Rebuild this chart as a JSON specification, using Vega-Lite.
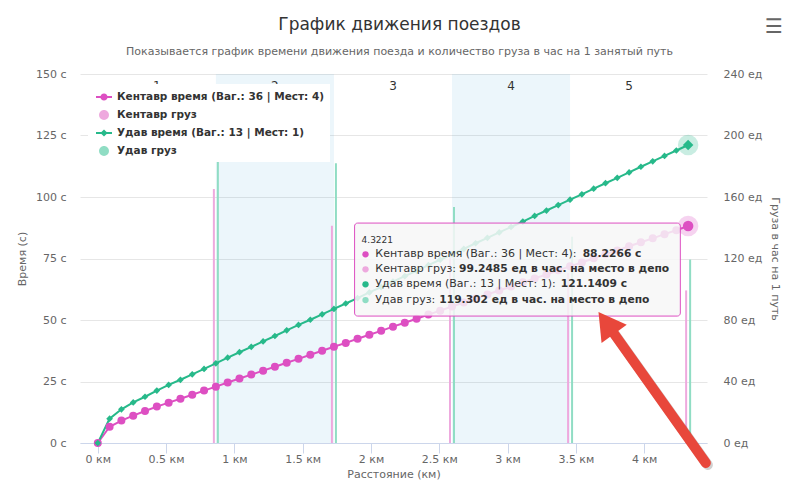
{
  "$schema": "https://vega.github.io/schema/vega-lite/v6.json",
  "width": 627,
  "height": 369,
  "autosize": {"type": "none"},
  "padding": {"left": 80, "top": 74, "right": 93, "bottom": 45},
  "background": "#ffffff",
  "config": {
    "font": "DejaVu Sans",
    "view": {"stroke": null},
    "axis": {"labelFont": "DejaVu Sans", "titleFont": "DejaVu Sans", "labelColor": "#666666", "titleColor": "#666666", "labelFontSize": 11, "titleFontSize": 11, "titleFontWeight": "normal"}
  },
  "title": {
    "text": "График движения поездов",
    "subtitle": "Показывается график времени движения поезда и количество груза в час на 1 занятый путь",
    "anchor": "middle", "frame": "group", "dx": 6,
    "font": "DejaVu Sans", "fontSize": 17, "fontWeight": "normal", "color": "#333333",
    "subtitleFont": "DejaVu Sans", "subtitleFontSize": 11, "subtitleColor": "#666666",
    "subtitlePadding": 12, "offset": -41
  },
  "datasets": {
    "bands": [
      {"band": "1", "start": 0, "end": 0.8644, "mid": 0.4322, "shaded": false},
      {"band": "2", "start": 0.8644, "end": 1.7288, "mid": 1.2966, "shaded": true},
      {"band": "3", "start": 1.7288, "end": 2.5933, "mid": 2.1611, "shaded": false},
      {"band": "4", "start": 2.5933, "end": 3.4577, "mid": 3.0255, "shaded": true},
      {"band": "5", "start": 3.4577, "end": 4.3221, "mid": 3.8899, "shaded": false}
    ],
    "cargo": [
      {"km": 0.8644, "g": 165.2, "series": "Кентавр груз"},
      {"km": 1.7288, "g": 141.3, "series": "Кентавр груз"},
      {"km": 2.5933, "g": 124.0, "series": "Кентавр груз"},
      {"km": 3.4577, "g": 110.5, "series": "Кентавр груз"},
      {"km": 4.3221, "g": 99.2485, "series": "Кентавр груз"},
      {"km": 0.8644, "g": 216.0, "series": "Удав груз"},
      {"km": 1.7288, "g": 182.0, "series": "Удав груз"},
      {"km": 2.5933, "g": 153.5, "series": "Удав груз"},
      {"km": 3.4577, "g": 134.2, "series": "Удав груз"},
      {"km": 4.3221, "g": 119.302, "series": "Удав груз"}
    ],
    "time": [
      {"km": 0, "t": 0, "series": "Кентавр время (Ваг.: 36 | Мест: 4)"},
      {"km": 0.0864, "t": 6.6, "series": "Кентавр время (Ваг.: 36 | Мест: 4)"},
      {"km": 0.1729, "t": 9.1, "series": "Кентавр время (Ваг.: 36 | Мест: 4)"},
      {"km": 0.2593, "t": 11.1, "series": "Кентавр время (Ваг.: 36 | Мест: 4)"},
      {"km": 0.3458, "t": 13.0, "series": "Кентавр время (Ваг.: 36 | Мест: 4)"},
      {"km": 0.4322, "t": 14.8, "series": "Кентавр время (Ваг.: 36 | Мест: 4)"},
      {"km": 0.5187, "t": 16.4, "series": "Кентавр время (Ваг.: 36 | Мест: 4)"},
      {"km": 0.6051, "t": 18.0, "series": "Кентавр время (Ваг.: 36 | Мест: 4)"},
      {"km": 0.6915, "t": 19.6, "series": "Кентавр время (Ваг.: 36 | Мест: 4)"},
      {"km": 0.778, "t": 21.3, "series": "Кентавр время (Ваг.: 36 | Мест: 4)"},
      {"km": 0.8644, "t": 22.9, "series": "Кентавр время (Ваг.: 36 | Мест: 4)"},
      {"km": 0.9509, "t": 24.6, "series": "Кентавр время (Ваг.: 36 | Мест: 4)"},
      {"km": 1.0373, "t": 26.2, "series": "Кентавр время (Ваг.: 36 | Мест: 4)"},
      {"km": 1.1237, "t": 27.8, "series": "Кентавр время (Ваг.: 36 | Мест: 4)"},
      {"km": 1.2102, "t": 29.4, "series": "Кентавр время (Ваг.: 36 | Мест: 4)"},
      {"km": 1.2966, "t": 31.0, "series": "Кентавр время (Ваг.: 36 | Мест: 4)"},
      {"km": 1.3831, "t": 32.6, "series": "Кентавр время (Ваг.: 36 | Мест: 4)"},
      {"km": 1.4695, "t": 34.2, "series": "Кентавр время (Ваг.: 36 | Мест: 4)"},
      {"km": 1.556, "t": 35.9, "series": "Кентавр время (Ваг.: 36 | Мест: 4)"},
      {"km": 1.6424, "t": 37.5, "series": "Кентавр время (Ваг.: 36 | Мест: 4)"},
      {"km": 1.7288, "t": 39.1, "series": "Кентавр время (Ваг.: 36 | Мест: 4)"},
      {"km": 1.8153, "t": 40.7, "series": "Кентавр время (Ваг.: 36 | Мест: 4)"},
      {"km": 1.9017, "t": 42.4, "series": "Кентавр время (Ваг.: 36 | Мест: 4)"},
      {"km": 1.9882, "t": 44.0, "series": "Кентавр время (Ваг.: 36 | Мест: 4)"},
      {"km": 2.0746, "t": 45.6, "series": "Кентавр время (Ваг.: 36 | Мест: 4)"},
      {"km": 2.1611, "t": 47.3, "series": "Кентавр время (Ваг.: 36 | Мест: 4)"},
      {"km": 2.2475, "t": 48.9, "series": "Кентавр время (Ваг.: 36 | Мест: 4)"},
      {"km": 2.3339, "t": 50.5, "series": "Кентавр время (Ваг.: 36 | Мест: 4)"},
      {"km": 2.4204, "t": 52.2, "series": "Кентавр время (Ваг.: 36 | Мест: 4)"},
      {"km": 2.5068, "t": 53.8, "series": "Кентавр время (Ваг.: 36 | Мест: 4)"},
      {"km": 2.5933, "t": 55.5, "series": "Кентавр время (Ваг.: 36 | Мест: 4)"},
      {"km": 2.6797, "t": 57.1, "series": "Кентавр время (Ваг.: 36 | Мест: 4)"},
      {"km": 2.7661, "t": 58.7, "series": "Кентавр время (Ваг.: 36 | Мест: 4)"},
      {"km": 2.8526, "t": 60.4, "series": "Кентавр время (Ваг.: 36 | Мест: 4)"},
      {"km": 2.939, "t": 62.0, "series": "Кентавр время (Ваг.: 36 | Мест: 4)"},
      {"km": 3.0255, "t": 63.6, "series": "Кентавр время (Ваг.: 36 | Мест: 4)"},
      {"km": 3.1119, "t": 65.3, "series": "Кентавр время (Ваг.: 36 | Мест: 4)"},
      {"km": 3.1984, "t": 66.9, "series": "Кентавр время (Ваг.: 36 | Мест: 4)"},
      {"km": 3.2848, "t": 68.5, "series": "Кентавр время (Ваг.: 36 | Мест: 4)"},
      {"km": 3.3712, "t": 70.2, "series": "Кентавр время (Ваг.: 36 | Мест: 4)"},
      {"km": 3.4577, "t": 71.8, "series": "Кентавр время (Ваг.: 36 | Мест: 4)"},
      {"km": 3.5441, "t": 73.4, "series": "Кентавр время (Ваг.: 36 | Мест: 4)"},
      {"km": 3.6306, "t": 75.1, "series": "Кентавр время (Ваг.: 36 | Мест: 4)"},
      {"km": 3.717, "t": 76.7, "series": "Кентавр время (Ваг.: 36 | Мест: 4)"},
      {"km": 3.8034, "t": 78.3, "series": "Кентавр время (Ваг.: 36 | Мест: 4)"},
      {"km": 3.8899, "t": 80.0, "series": "Кентавр время (Ваг.: 36 | Мест: 4)"},
      {"km": 3.9763, "t": 81.6, "series": "Кентавр время (Ваг.: 36 | Мест: 4)"},
      {"km": 4.0628, "t": 83.2, "series": "Кентавр время (Ваг.: 36 | Мест: 4)"},
      {"km": 4.1492, "t": 84.9, "series": "Кентавр время (Ваг.: 36 | Мест: 4)"},
      {"km": 4.2357, "t": 86.5, "series": "Кентавр время (Ваг.: 36 | Мест: 4)"},
      {"km": 4.3221, "t": 88.2266, "series": "Кентавр время (Ваг.: 36 | Мест: 4)"},
      {"km": 0, "t": 0, "series": "Удав время (Ваг.: 13 | Мест: 1)"},
      {"km": 0.0864, "t": 9.9, "series": "Удав время (Ваг.: 13 | Мест: 1)"},
      {"km": 0.1729, "t": 13.7, "series": "Удав время (Ваг.: 13 | Мест: 1)"},
      {"km": 0.2593, "t": 16.5, "series": "Удав время (Ваг.: 13 | Мест: 1)"},
      {"km": 0.3458, "t": 18.8, "series": "Удав время (Ваг.: 13 | Мест: 1)"},
      {"km": 0.4322, "t": 21.3, "series": "Удав время (Ваг.: 13 | Мест: 1)"},
      {"km": 0.5187, "t": 23.6, "series": "Удав время (Ваг.: 13 | Мест: 1)"},
      {"km": 0.6051, "t": 25.7, "series": "Удав время (Ваг.: 13 | Мест: 1)"},
      {"km": 0.6915, "t": 27.9, "series": "Удав время (Ваг.: 13 | Мест: 1)"},
      {"km": 0.778, "t": 30.1, "series": "Удав время (Ваг.: 13 | Мест: 1)"},
      {"km": 0.8644, "t": 32.4, "series": "Удав время (Ваг.: 13 | Мест: 1)"},
      {"km": 0.9509, "t": 34.7, "series": "Удав время (Ваг.: 13 | Мест: 1)"},
      {"km": 1.0373, "t": 36.9, "series": "Удав время (Ваг.: 13 | Мест: 1)"},
      {"km": 1.1237, "t": 39.1, "series": "Удав время (Ваг.: 13 | Мест: 1)"},
      {"km": 1.2102, "t": 41.3, "series": "Удав время (Ваг.: 13 | Мест: 1)"},
      {"km": 1.2966, "t": 43.5, "series": "Удав время (Ваг.: 13 | Мест: 1)"},
      {"km": 1.3831, "t": 45.8, "series": "Удав время (Ваг.: 13 | Мест: 1)"},
      {"km": 1.4695, "t": 48.0, "series": "Удав время (Ваг.: 13 | Мест: 1)"},
      {"km": 1.556, "t": 50.1, "series": "Удав время (Ваг.: 13 | Мест: 1)"},
      {"km": 1.6424, "t": 52.3, "series": "Удав время (Ваг.: 13 | Мест: 1)"},
      {"km": 1.7288, "t": 54.5, "series": "Удав время (Ваг.: 13 | Мест: 1)"},
      {"km": 1.8153, "t": 56.7, "series": "Удав время (Ваг.: 13 | Мест: 1)"},
      {"km": 1.9017, "t": 58.9, "series": "Удав время (Ваг.: 13 | Мест: 1)"},
      {"km": 1.9882, "t": 61.2, "series": "Удав время (Ваг.: 13 | Мест: 1)"},
      {"km": 2.0746, "t": 63.4, "series": "Удав время (Ваг.: 13 | Мест: 1)"},
      {"km": 2.1611, "t": 65.6, "series": "Удав время (Ваг.: 13 | Мест: 1)"},
      {"km": 2.2475, "t": 67.8, "series": "Удав время (Ваг.: 13 | Мест: 1)"},
      {"km": 2.3339, "t": 70.0, "series": "Удав время (Ваг.: 13 | Мест: 1)"},
      {"km": 2.4204, "t": 72.3, "series": "Удав время (Ваг.: 13 | Мест: 1)"},
      {"km": 2.5068, "t": 74.5, "series": "Удав время (Ваг.: 13 | Мест: 1)"},
      {"km": 2.5933, "t": 76.7, "series": "Удав время (Ваг.: 13 | Мест: 1)"},
      {"km": 2.6797, "t": 78.9, "series": "Удав время (Ваг.: 13 | Мест: 1)"},
      {"km": 2.7661, "t": 81.2, "series": "Удав время (Ваг.: 13 | Мест: 1)"},
      {"km": 2.8526, "t": 83.4, "series": "Удав время (Ваг.: 13 | Мест: 1)"},
      {"km": 2.939, "t": 85.6, "series": "Удав время (Ваг.: 13 | Мест: 1)"},
      {"km": 3.0255, "t": 87.8, "series": "Удав время (Ваг.: 13 | Мест: 1)"},
      {"km": 3.1119, "t": 90.0, "series": "Удав время (Ваг.: 13 | Мест: 1)"},
      {"km": 3.1984, "t": 92.3, "series": "Удав время (Ваг.: 13 | Мест: 1)"},
      {"km": 3.2848, "t": 94.5, "series": "Удав время (Ваг.: 13 | Мест: 1)"},
      {"km": 3.3712, "t": 96.7, "series": "Удав время (Ваг.: 13 | Мест: 1)"},
      {"km": 3.4577, "t": 98.9, "series": "Удав время (Ваг.: 13 | Мест: 1)"},
      {"km": 3.5441, "t": 101.1, "series": "Удав время (Ваг.: 13 | Мест: 1)"},
      {"km": 3.6306, "t": 103.4, "series": "Удав время (Ваг.: 13 | Мест: 1)"},
      {"km": 3.717, "t": 105.6, "series": "Удав время (Ваг.: 13 | Мест: 1)"},
      {"km": 3.8034, "t": 107.8, "series": "Удав время (Ваг.: 13 | Мест: 1)"},
      {"km": 3.8899, "t": 110.0, "series": "Удав время (Ваг.: 13 | Мест: 1)"},
      {"km": 3.9763, "t": 112.3, "series": "Удав время (Ваг.: 13 | Мест: 1)"},
      {"km": 4.0628, "t": 114.5, "series": "Удав время (Ваг.: 13 | Мест: 1)"},
      {"km": 4.1492, "t": 116.7, "series": "Удав время (Ваг.: 13 | Мест: 1)"},
      {"km": 4.2357, "t": 118.9, "series": "Удав время (Ваг.: 13 | Мест: 1)"},
      {"km": 4.3221, "t": 121.1409, "series": "Удав время (Ваг.: 13 | Мест: 1)"}
    ]
  },
  "layer": [
    {
      "data": {"name": "bands"},
      "transform": [{"filter": "datum.shaded"}],
      "mark": {"type": "rect", "fill": "#44aad5", "fillOpacity": 0.1},
      "encoding": {
        "x": {"field": "start", "type": "quantitative", "scale": {"domain": [-0.0937, 4.4236], "nice": false, "zero": false},
              "axis": {"title": "Расстояние (км)", "values": [0, 0.5, 1, 1.5, 2, 2.5, 3, 3.5, 4], "labelExpr": "datum.value + ' км'", "grid": false, "domainColor": "#ccd6eb", "tickColor": "#ccd6eb", "tickSize": 10, "labelPadding": 0, "titlePadding": 4, "labelFlush": false}},
        "x2": {"field": "end"}
      }
    },
    {
      "data": {"name": "cargo"},
      "encoding": {
        "x": {"field": "km", "type": "quantitative", "scale": {"domain": [-0.0937, 4.4236], "nice": false, "zero": false}},
        "y": {"field": "g", "type": "quantitative", "stack": null, "scale": {"domain": [0, 240], "nice": false},
              "axis": {"orient": "right", "title": "Груза в час на 1 путь", "values": [0, 40, 80, 120, 160, 200, 240], "labelExpr": "datum.value + ' ед'", "grid": false, "domain": false, "ticks": false, "tickSize": 0, "labelPadding": 16, "titlePadding": 8}},
        "color": {"field": "series", "type": "nominal",
                  "scale": {"domain": ["Кентавр время (Ваг.: 36 | Мест: 4)", "Кентавр груз", "Удав время (Ваг.: 13 | Мест: 1)", "Удав груз"], "range": ["#dd4fc2", "#eea9de", "#27b98a", "#90ddc4"]},
                  "legend": {
                    "title": null, "orient": "none", "legendX": 8, "legendY": 10, "direction": "vertical",
                    "fillColor": "#ffffff", "padding": 5, "rowPadding": 4, "symbolSize": 256, "symbolOffset": 3, "labelOffset": 5,
                    "labelFont": "DejaVu Sans", "labelFontSize": 10.5, "labelFontWeight": "bold", "labelColor": "#333333", "labelLimit": 400,
                    "symbolOpacity": 1, "symbolStrokeWidth": 0,
                    "encode": {"symbols": {"update": {
                      "shape": {"signal": "datum.value === 'Кентавр время (Ваг.: 36 | Мест: 4)' ? 'M-1,-0.12L1,-0.12L1,0.12L-1,0.12Z M0.45,0A0.45,0.45,0,1,1,-0.45,0A0.45,0.45,0,1,1,0.45,0Z' : datum.value === 'Удав время (Ваг.: 13 | Мест: 1)' ? 'M-1,-0.12L1,-0.12L1,0.12L-1,0.12Z M0,-0.45L0.45,0L0,0.45L-0.45,0Z' : 'M0.62,0A0.62,0.62,0,1,1,-0.62,0A0.62,0.62,0,1,1,0.62,0Z'"},
                      "fill": {"scale": "color", "field": "value"},
                      "strokeWidth": {"value": 0},
                      "opacity": {"value": 1}
                    }}}
                  }}
      },
      "layer": [
        {"transform": [{"filter": "datum.series === 'Кентавр груз'"}], "mark": {"type": "bar", "width": 2, "xOffset": -2}},
        {"transform": [{"filter": "datum.series === 'Удав груз'"}], "mark": {"type": "bar", "width": 2, "xOffset": 2}}
      ]
    },
    {
      "layer": [
        {
          "data": {"name": "time"},
          "encoding": {
            "x": {"field": "km", "type": "quantitative", "scale": {"domain": [-0.0937, 4.4236], "nice": false, "zero": false}},
            "y": {"field": "t", "type": "quantitative", "scale": {"domain": [0, 150], "nice": false},
                  "axis": {"orient": "left", "title": "Время (с)", "values": [0, 25, 50, 75, 100, 125, 150], "labelExpr": "datum.value + ' с'", "grid": true, "gridColor": "#e6e6e6", "domain": false, "ticks": false, "tickSize": 0, "labelPadding": 14, "titlePadding": 8}}
          },
          "layer": [
            {
              "mark": {"type": "line", "strokeWidth": 2},
              "encoding": {"color": {"field": "series", "type": "nominal",
                "scale": {"domain": ["Кентавр время (Ваг.: 36 | Мест: 4)", "Кентавр груз", "Удав время (Ваг.: 13 | Мест: 1)", "Удав груз"], "range": ["#dd4fc2", "#eea9de", "#27b98a", "#90ddc4"]}}}
            },
            {
              "transform": [{"filter": "datum.series === 'Кентавр время (Ваг.: 36 | Мест: 4)'"}],
              "mark": {"type": "point", "filled": true, "shape": "circle", "size": 64, "opacity": 1},
              "encoding": {"color": {"field": "series", "type": "nominal",
                "scale": {"domain": ["Кентавр время (Ваг.: 36 | Мест: 4)", "Кентавр груз", "Удав время (Ваг.: 13 | Мест: 1)", "Удав груз"], "range": ["#dd4fc2", "#eea9de", "#27b98a", "#90ddc4"]}}}
            },
            {
              "transform": [{"filter": "datum.series === 'Удав время (Ваг.: 13 | Мест: 1)'"}],
              "mark": {"type": "point", "filled": true, "shape": "diamond", "size": 45, "opacity": 1},
              "encoding": {"color": {"field": "series", "type": "nominal",
                "scale": {"domain": ["Кентавр время (Ваг.: 36 | Мест: 4)", "Кентавр груз", "Удав время (Ваг.: 13 | Мест: 1)", "Удав груз"], "range": ["#dd4fc2", "#eea9de", "#27b98a", "#90ddc4"]}}}
            },
            {
              "transform": [{"filter": "datum.km > 4.3 && datum.series === 'Кентавр время (Ваг.: 36 | Мест: 4)'"}],
              "mark": {"type": "point", "filled": true, "shape": "circle", "size": 420, "color": "#dd4fc2", "opacity": 0.25}
            },
            {
              "transform": [{"filter": "datum.km > 4.3 && datum.series === 'Удав время (Ваг.: 13 | Мест: 1)'"}],
              "mark": {"type": "point", "filled": true, "shape": "circle", "size": 420, "color": "#27b98a", "opacity": 0.25}
            },
            {
              "transform": [{"filter": "datum.km > 4.3 && datum.series === 'Кентавр время (Ваг.: 36 | Мест: 4)'"}],
              "mark": {"type": "point", "filled": true, "shape": "circle", "size": 110, "color": "#dd4fc2", "opacity": 1}
            },
            {
              "transform": [{"filter": "datum.km > 4.3 && datum.series === 'Удав время (Ваг.: 13 | Мест: 1)'"}],
              "mark": {"type": "point", "filled": true, "shape": "diamond", "size": 110, "color": "#27b98a", "opacity": 1}
            }
          ]
        },
        {
          "data": {"name": "bands"},
          "mark": {"type": "text", "fontSize": 12, "color": "#333333", "baseline": "middle", "dy": 12},
          "encoding": {
            "x": {"field": "mid", "type": "quantitative"},
            "y": {"datum": 150},
            "text": {"field": "band"}
          }
        },
        {
          "data": {"values": [{}]},
          "mark": {"type": "rect", "fill": "#f7f7f7", "fillOpacity": 0.85, "stroke": "#dd4fc2", "strokeWidth": 1, "cornerRadius": 3},
          "encoding": {"x": {"datum": 1.880}, "x2": {"datum": 4.265}, "y": {"datum": 89.4}, "y2": {"datum": 51.6}}
        },
        {
          "data": {"values": [{}]},
          "mark": {"type": "text", "text": "4.3221", "fontSize": 9, "color": "#333333", "align": "left", "baseline": "middle"},
          "encoding": {"x": {"datum": 1.931}, "y": {"datum": 82.6}}
        },
        {
          "data": {"values": [{}]},
          "mark": {"type": "point", "filled": true, "shape": "circle", "size": 40, "color": "#dd4fc2", "opacity": 1},
          "encoding": {"x": {"datum": 1.960}, "y": {"datum": 76.7}}
        },
        {
          "data": {"values": [{}]},
          "mark": {"type": "point", "filled": true, "shape": "circle", "size": 40, "color": "#eea9de", "opacity": 1},
          "encoding": {"x": {"datum": 1.960}, "y": {"datum": 70.6}}
        },
        {
          "data": {"values": [{}]},
          "mark": {"type": "point", "filled": true, "shape": "circle", "size": 40, "color": "#27b98a", "opacity": 1},
          "encoding": {"x": {"datum": 1.960}, "y": {"datum": 64.5}}
        },
        {
          "data": {"values": [{}]},
          "mark": {"type": "point", "filled": true, "shape": "circle", "size": 40, "color": "#90ddc4", "opacity": 1},
          "encoding": {"x": {"datum": 1.960}, "y": {"datum": 58.1}}
        },
        {
          "data": {"values": [{}]},
          "mark": {"type": "text", "text": "Кентавр время (Ваг.: 36 | Мест: 4): ", "fontSize": 11, "color": "#333333", "align": "left", "baseline": "middle"},
          "encoding": {"x": {"datum": 2.032}, "y": {"datum": 76.7}}
        },
        {
          "data": {"values": [{}]},
          "mark": {"type": "text", "text": "Кентавр груз: ", "fontSize": 11, "color": "#333333", "align": "left", "baseline": "middle"},
          "encoding": {"x": {"datum": 2.032}, "y": {"datum": 70.6}}
        },
        {
          "data": {"values": [{}]},
          "mark": {"type": "text", "text": "Удав время (Ваг.: 13 | Мест: 1): ", "fontSize": 11, "color": "#333333", "align": "left", "baseline": "middle"},
          "encoding": {"x": {"datum": 2.032}, "y": {"datum": 64.5}}
        },
        {
          "data": {"values": [{}]},
          "mark": {"type": "text", "text": "Удав груз: ", "fontSize": 11, "color": "#333333", "align": "left", "baseline": "middle"},
          "encoding": {"x": {"datum": 2.032}, "y": {"datum": 58.1}}
        },
        {
          "data": {"values": [{}]},
          "mark": {"type": "text", "text": "88.2266 с", "fontSize": 10.7, "fontWeight": "bold", "color": "#333333", "align": "left", "baseline": "middle"},
          "encoding": {"x": {"datum": 3.55}, "y": {"datum": 76.7}}
        },
        {
          "data": {"values": [{}]},
          "mark": {"type": "text", "text": "99.2485 ед в час. на место в депо", "fontSize": 10.7, "fontWeight": "bold", "color": "#333333", "align": "left", "baseline": "middle"},
          "encoding": {"x": {"datum": 2.645}, "y": {"datum": 70.6}}
        },
        {
          "data": {"values": [{}]},
          "mark": {"type": "text", "text": "121.1409 с", "fontSize": 10.7, "fontWeight": "bold", "color": "#333333", "align": "left", "baseline": "middle"},
          "encoding": {"x": {"datum": 3.39}, "y": {"datum": 64.5}}
        },
        {
          "data": {"values": [{}]},
          "mark": {"type": "text", "text": "119.302 ед в час. на место в депо", "fontSize": 10.7, "fontWeight": "bold", "color": "#333333", "align": "left", "baseline": "middle"},
          "encoding": {"x": {"datum": 2.50}, "y": {"datum": 58.1}}
        },
        {
          "data": {"values": [{}]},
          "mark": {"type": "rule", "color": "#000000", "opacity": 0.18, "strokeWidth": 10, "strokeCap": "round"},
          "encoding": {"x": {"datum": 4.467}, "y": {"datum": -8.94}, "x2": {"datum": 3.775}, "y2": {"datum": 45.1}}
        },
        {
          "data": {"values": [{}]},
          "mark": {"type": "rule", "color": "#e8473b", "strokeWidth": 10, "strokeCap": "round"},
          "encoding": {"x": {"datum": 4.452}, "y": {"datum": -8.13}, "x2": {"datum": 3.761}, "y2": {"datum": 45.9}}
        },
        {
          "data": {"values": [{}]},
          "mark": {"type": "point", "shape": "triangle-up", "filled": true, "color": "#e8473b", "opacity": 1, "size": 961, "angle": 324.3},
          "encoding": {"x": {"datum": 3.723}, "y": {"datum": 48.8}}
        },
        {
          "data": {"values": [{}]},
          "mark": {"type": "text", "text": "☰", "fontSize": 20, "color": "#666666", "align": "center", "baseline": "middle"},
          "encoding": {"x": {"datum": 4.95}, "y": {"datum": 169.3}}
        }
      ]
    }
  ],
  "resolve": {"scale": {"y": "independent"}}
}
